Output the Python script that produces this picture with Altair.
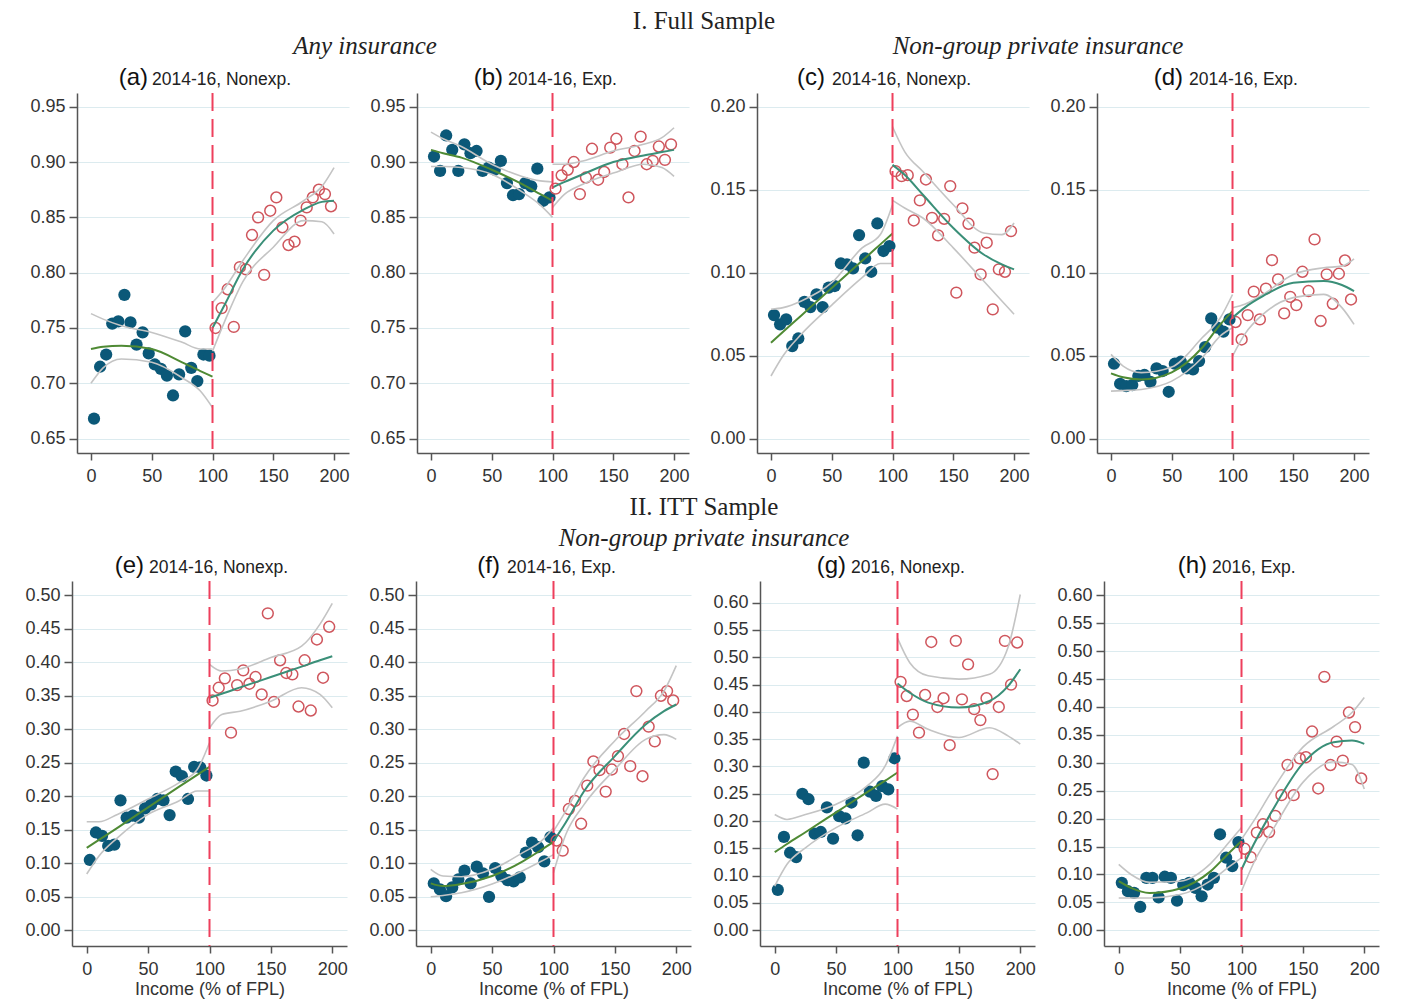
import altair as alt
import pandas as pd

# ---------------- data ----------------
X_LEFT = [2.5, 7.5, 12.5, 17.5, 22.5, 27.5, 32.5, 37.5, 42.5, 47.5,
          52.5, 57.5, 62.5, 67.5, 72.5, 77.5, 82.5, 87.5, 92.5, 97.5]
X_RIGHT = [102.5, 107.5, 112.5, 117.5, 122.5, 127.5, 132.5, 137.5, 142.5, 147.5,
           152.5, 157.5, 162.5, 167.5, 172.5, 177.5, 182.5, 187.5, 192.5, 197.5]
GRID_LEFT = [0, 10, 25, 50, 75, 90, 100]
GRID_RIGHT = [100, 110, 125, 150, 175, 190, 200]
X_TICKS = [0, 50, 100, 150, 200]
CUTOFF = [100]

TICKS_A = [0.65, 0.70, 0.75, 0.80, 0.85, 0.90, 0.95]
TICKS_C = [0.00, 0.05, 0.10, 0.15, 0.20]
TICKS_E = [0.00, 0.05, 0.10, 0.15, 0.20, 0.25, 0.30, 0.35, 0.40, 0.45, 0.50]
TICKS_G = [0.00, 0.05, 0.10, 0.15, 0.20, 0.25, 0.30, 0.35, 0.40, 0.45, 0.50, 0.55, 0.60]

# (a) Any insurance, 2014-16, Nonexp.
a_left = [0.668, 0.715, 0.726, 0.754, 0.756, 0.780, 0.755, 0.735, 0.746, 0.727,
          0.717, 0.713, 0.707, 0.689, 0.708, 0.747, 0.714, 0.702, 0.726, 0.725]
a_right = [0.750, 0.768, 0.785, 0.751, 0.805, 0.803, 0.834, 0.850, 0.798, 0.856,
           0.868, 0.841, 0.825, 0.828, 0.847, 0.859, 0.868, 0.875, 0.871, 0.860]
a_fit_l = [0.731, 0.733, 0.734, 0.731, 0.719, 0.711, 0.706]
a_hi_l = [0.763, 0.758, 0.752, 0.746, 0.737, 0.731, 0.731]
a_lo_l = [0.700, 0.714, 0.722, 0.719, 0.705, 0.693, 0.678]
a_fit_r = [0.750, 0.771, 0.803, 0.838, 0.857, 0.864, 0.865]
a_hi_r = [0.773, 0.786, 0.811, 0.847, 0.865, 0.878, 0.895]
a_lo_r = [0.729, 0.756, 0.792, 0.823, 0.847, 0.846, 0.835]

# (b) Any insurance, 2014-16, Exp.
b_left = [0.905, 0.892, 0.924, 0.911, 0.892, 0.916, 0.908, 0.910, 0.892, 0.895,
          0.893, 0.901, 0.881, 0.870, 0.871, 0.881, 0.878, 0.894, 0.865, 0.868]
b_right = [0.876, 0.888, 0.893, 0.900, 0.871, 0.886, 0.912, 0.884, 0.891, 0.913,
           0.921, 0.898, 0.868, 0.910, 0.923, 0.898, 0.901, 0.914, 0.902, 0.916]
b_fit_l = [0.911, 0.908, 0.904, 0.893, 0.880, 0.871, 0.865]
b_hi_l = [0.927, 0.921, 0.914, 0.898, 0.887, 0.883, 0.882]
b_lo_l = [0.896, 0.896, 0.895, 0.889, 0.873, 0.861, 0.850]
b_fit_r = [0.877, 0.882, 0.889, 0.900, 0.906, 0.909, 0.911]
b_hi_r = [0.898, 0.898, 0.901, 0.910, 0.916, 0.922, 0.931]
b_lo_r = [0.859, 0.871, 0.880, 0.890, 0.898, 0.895, 0.887]

# (c) Non-group private, 2014-16, Nonexp.
c_left = [0.0745, 0.0689, 0.0719, 0.0558, 0.0604, 0.0825, 0.0793, 0.0870, 0.0793, 0.0910,
          0.0920, 0.1056, 0.1050, 0.1026, 0.1227, 0.1086, 0.1006, 0.1297, 0.1131, 0.1161]
c_right = [0.1612, 0.1582, 0.1588, 0.1315, 0.1436, 0.1562, 0.1331, 0.1225, 0.1325, 0.1522,
           0.0880, 0.1388, 0.1295, 0.1151, 0.0990, 0.1181, 0.0779, 0.1020, 0.1006, 0.1251]
c_fit_l = [0.0578, 0.0644, 0.0743, 0.0908, 0.1072, 0.1171, 0.1237]
c_hi_l = [0.0780, 0.0790, 0.0830, 0.0940, 0.1150, 0.1230, 0.1410]
c_lo_l = [0.0378, 0.0500, 0.0630, 0.0805, 0.0970, 0.1056, 0.1056]
c_fit_r = [0.1650, 0.1590, 0.1470, 0.1270, 0.1110, 0.1050, 0.1020]
c_hi_r = [0.1880, 0.1730, 0.1610, 0.1410, 0.1240, 0.1230, 0.1300]
c_lo_r = [0.1436, 0.1390, 0.1330, 0.1150, 0.0950, 0.0830, 0.0750]

# (d) Non-group private, 2014-16, Exp.
d_left = [0.0452, 0.0331, 0.0317, 0.0323, 0.0378, 0.0384, 0.0343, 0.0424, 0.0408, 0.0283,
          0.0452, 0.0464, 0.0424, 0.0418, 0.0468, 0.0552, 0.0725, 0.0669, 0.0645, 0.0719]
d_right = [0.0703, 0.0598, 0.0745, 0.0886, 0.0719, 0.0904, 0.1076, 0.0960, 0.0755, 0.0855,
           0.0805, 0.1006, 0.0890, 0.1201, 0.0709, 0.0990, 0.0813, 0.0994, 0.1074, 0.0839]
d_fit_l = [0.0394, 0.0370, 0.0357, 0.0400, 0.0548, 0.0689, 0.0769]
d_hi_l = [0.0508, 0.0438, 0.0398, 0.0432, 0.0608, 0.0729, 0.0869]
d_lo_l = [0.0287, 0.0290, 0.0297, 0.0347, 0.0488, 0.0620, 0.0669]
d_fit_r = [0.0729, 0.0790, 0.0859, 0.0940, 0.0950, 0.0926, 0.0889]
d_hi_r = [0.0789, 0.0810, 0.0869, 0.0990, 0.1030, 0.1040, 0.1084]
d_lo_r = [0.0498, 0.0629, 0.0749, 0.0850, 0.0870, 0.0790, 0.0689]

# (e) ITT, 2014-16, Nonexp.
e_left = [0.105, 0.146, 0.141, 0.126, 0.128, 0.194, 0.168, 0.171, 0.168, 0.182,
          0.188, 0.196, 0.194, 0.172, 0.237, 0.230, 0.196, 0.244, 0.243, 0.231]
e_right = [0.343, 0.362, 0.376, 0.295, 0.366, 0.388, 0.368, 0.378, 0.352, 0.473,
           0.341, 0.403, 0.384, 0.382, 0.334, 0.403, 0.328, 0.434, 0.377, 0.453]
e_fit_l = [0.123, 0.135, 0.153, 0.1835, 0.214, 0.232, 0.244]
e_hi_l = [0.162, 0.162, 0.173, 0.196, 0.220, 0.240, 0.280]
e_lo_l = [0.084, 0.111, 0.138, 0.173, 0.193, 0.208, 0.208]
e_fit_r = [0.347, 0.353, 0.3625, 0.378, 0.3935, 0.403, 0.409]
e_hi_r = [0.397, 0.387, 0.390, 0.407, 0.424, 0.457, 0.488]
e_lo_r = [0.302, 0.322, 0.327, 0.342, 0.362, 0.352, 0.332]

# (f) ITT, 2014-16, Exp.
f_left = [0.070, 0.061, 0.051, 0.064, 0.076, 0.089, 0.070, 0.095, 0.085, 0.050,
          0.093, 0.081, 0.075, 0.073, 0.079, 0.116, 0.131, 0.124, 0.103, 0.139]
f_right = [0.134, 0.119, 0.181, 0.193, 0.159, 0.216, 0.252, 0.239, 0.207, 0.240,
           0.260, 0.293, 0.245, 0.357, 0.230, 0.304, 0.282, 0.350, 0.357, 0.343]
f_fit_l = [0.070, 0.066, 0.069, 0.081, 0.103, 0.120, 0.132]
f_hi_l = [0.091, 0.081, 0.080, 0.091, 0.116, 0.133, 0.153]
f_lo_l = [0.050, 0.052, 0.056, 0.069, 0.089, 0.103, 0.113]
f_fit_r = [0.133, 0.161, 0.208, 0.260, 0.307, 0.327, 0.337]
f_hi_r = [0.148, 0.178, 0.228, 0.283, 0.327, 0.357, 0.395]
f_lo_r = [0.086, 0.143, 0.188, 0.240, 0.285, 0.292, 0.285]

# (g) ITT, 2016, Nonexp.
g_left = [0.074, 0.171, 0.142, 0.134, 0.250, 0.240, 0.177, 0.180, 0.225, 0.168,
          0.209, 0.205, 0.234, 0.174, 0.307, 0.254, 0.246, 0.264, 0.258, 0.315]
g_right = [0.455, 0.429, 0.395, 0.362, 0.431, 0.528, 0.409, 0.425, 0.339, 0.530,
           0.423, 0.487, 0.405, 0.385, 0.425, 0.286, 0.409, 0.530, 0.450, 0.527]
g_fit_l = [0.143, 0.158, 0.1795, 0.216, 0.2525, 0.274, 0.289]
g_hi_l = [0.212, 0.203, 0.212, 0.231, 0.264, 0.301, 0.356]
g_lo_l = [0.081, 0.121, 0.151, 0.188, 0.215, 0.231, 0.222]
g_fit_r = [0.452, 0.435, 0.417, 0.408, 0.420, 0.447, 0.478]
g_hi_r = [0.535, 0.490, 0.466, 0.460, 0.469, 0.518, 0.615]
g_lo_r = [0.371, 0.383, 0.368, 0.353, 0.371, 0.356, 0.341]

# (h) ITT, 2016, Exp.
h_left = [0.085, 0.070, 0.067, 0.042, 0.094, 0.094, 0.059, 0.096, 0.094, 0.053,
          0.081, 0.085, 0.076, 0.061, 0.082, 0.094, 0.172, 0.130, 0.115, 0.158]
h_right = [0.146, 0.131, 0.175, 0.190, 0.176, 0.205, 0.242, 0.296, 0.242, 0.308,
           0.310, 0.356, 0.254, 0.454, 0.296, 0.338, 0.304, 0.390, 0.364, 0.272]
h_fit_l = [0.088, 0.076, 0.067, 0.075, 0.106, 0.139, 0.160]
h_hi_l = [0.118, 0.100, 0.086, 0.088, 0.120, 0.158, 0.184]
h_lo_l = [0.058, 0.058, 0.058, 0.064, 0.089, 0.114, 0.130]
h_fit_r = [0.109, 0.154, 0.214, 0.299, 0.337, 0.340, 0.334]
h_hi_r = [0.163, 0.196, 0.250, 0.328, 0.365, 0.390, 0.417]
h_lo_r = [0.070, 0.121, 0.178, 0.265, 0.302, 0.297, 0.253]

TOP_HEADER = "I. Full Sample"
BOTTOM_HEADER = "II. ITT Sample"
GROUP_ANY = "Any insurance"
GROUP_NG = "Non-group private insurance"
X_TITLE = "Income (% of FPL)"

PANELS = [
    ("(a)", "2014-16, Nonexp.", a_left, a_right, a_fit_l, a_hi_l, a_lo_l, a_fit_r, a_hi_r, a_lo_r, TICKS_A),
    ("(b)", "2014-16, Exp.", b_left, b_right, b_fit_l, b_hi_l, b_lo_l, b_fit_r, b_hi_r, b_lo_r, TICKS_A),
    ("(c)", "2014-16, Nonexp.", c_left, c_right, c_fit_l, c_hi_l, c_lo_l, c_fit_r, c_hi_r, c_lo_r, TICKS_C),
    ("(d)", "2014-16, Exp.", d_left, d_right, d_fit_l, d_hi_l, d_lo_l, d_fit_r, d_hi_r, d_lo_r, TICKS_C),
    ("(e)", "2014-16, Nonexp.", e_left, e_right, e_fit_l, e_hi_l, e_lo_l, e_fit_r, e_hi_r, e_lo_r, TICKS_E),
    ("(f)", "2014-16, Exp.", f_left, f_right, f_fit_l, f_hi_l, f_lo_l, f_fit_r, f_hi_r, f_lo_r, TICKS_E),
    ("(g)", "2016, Nonexp.", g_left, g_right, g_fit_l, g_hi_l, g_lo_l, g_fit_r, g_hi_r, g_lo_r, TICKS_G),
    ("(h)", "2016, Exp.", h_left, h_right, h_fit_l, h_hi_l, h_lo_l, h_fit_r, h_hi_r, h_lo_r, TICKS_G),
]

# ---------------- layout / style ----------------
TOP_W, TOP_H = 272, 360
BOT_W, BOT_H = 275, 365
X_DOM_TOP = [-11.5, 212.3]
X_DOM_BOT = [-12.0, 212.0]
Y_DOMS = [[0.637, 0.9624], [0.637, 0.9624], [-0.0086, 0.2083], [-0.0086, 0.2083],
          [-0.0234, 0.5213], [-0.0234, 0.5213], [-0.0288, 0.6397], [-0.0281, 0.6256]]
TITLE_POS = [(71, 75), (86, 91), (68, 75), (86, 92), (72, 77), (84, 91), (86, 91), (103, 108)]

BLUE = "#0b5878"
RED = "#cf565d"
GREEN_L = "#4f8a34"
GREEN_R = "#3a8f78"
CI_GRAY = "#c4c4c4"
CUT_RED = "#ee3f5c"
SANS = "Liberation Sans"
SERIF = "Liberation Serif"


def text_layer(txt, x, y, size, font, align="center", style="normal", color="#222"):
    return alt.Chart(pd.DataFrame({"t": [txt]})).mark_text(
        fontSize=size, font=font, align=align, baseline="alphabetic",
        fontStyle=style, color=color
    ).encode(text="t:N", x=alt.value(x), y=alt.value(y))


def make_panel(i, extra):
    tag, label, left, right, fit_l, hi_l, lo_l, fit_r, hi_r, lo_r, ticks = PANELS[i]
    top = i < 4
    w, h = (TOP_W, TOP_H) if top else (BOT_W, BOT_H)
    xdom = X_DOM_TOP if top else X_DOM_BOT
    ydom = Y_DOMS[i]

    x_axis = alt.Axis(values=X_TICKS, grid=False, title=None if top else X_TITLE,
                      tickSize=7, labelPadding=7, titlePadding=2)
    y_axis = alt.Axis(values=ticks, format=".2f", grid=True, title=None,
                      tickSize=8, labelPadding=4)
    xe = alt.X("x:Q", scale=alt.Scale(domain=xdom, nice=False, zero=False), axis=x_axis)
    ye = alt.Y("y:Q", scale=alt.Scale(domain=ydom, nice=False, zero=False), axis=y_axis)

    pts_l = pd.DataFrame({"x": X_LEFT, "y": left})
    pts_r = pd.DataFrame({"x": X_RIGHT, "y": right})
    rows = []
    for name, xs, ys in (("hi_l", GRID_LEFT, hi_l), ("lo_l", GRID_LEFT, lo_l),
                         ("hi_r", GRID_RIGHT, hi_r), ("lo_r", GRID_RIGHT, lo_r)):
        for xv, yv in zip(xs, ys):
            rows.append({"x": xv, "y": yv, "curve": name})
    ci = pd.DataFrame(rows)
    fl = pd.DataFrame({"x": GRID_LEFT, "y": fit_l})
    fr = pd.DataFrame({"x": GRID_RIGHT, "y": fit_r})

    blue = alt.Chart(pts_l).mark_circle(size=150, color=BLUE, opacity=1).encode(x=xe, y=ye)
    red = alt.Chart(pts_r).mark_point(shape="circle", size=118, filled=False, color=RED,
                                      strokeWidth=1.5, opacity=1).encode(x=xe, y=ye)
    ci_l = alt.Chart(ci).mark_line(color=CI_GRAY, strokeWidth=1.6, interpolate="monotone").encode(
        x=xe, y=ye, detail="curve:N")
    fit_left = alt.Chart(fl).mark_line(color=GREEN_L, strokeWidth=2, interpolate="monotone").encode(x=xe, y=ye)
    fit_right = alt.Chart(fr).mark_line(color=GREEN_R, strokeWidth=2, interpolate="monotone").encode(x=xe, y=ye)
    rule = alt.Chart(pd.DataFrame({"x": CUTOFF})).mark_rule(
        color=CUT_RED, strokeWidth=2, strokeDash=[18, 8]).encode(x=xe)

    px, tx = TITLE_POS[i]
    ty = -8
    t1 = text_layer(tag, px, ty, 24, SANS, align="right", color="#111")
    t2 = text_layer(label, tx, ty, 17.5, SANS, align="left", color="#222")

    layers = [blue, red, ci_l, fit_left, fit_right, rule, t1, t2] + extra
    return alt.layer(*layers).properties(width=w, height=h)


top_extra = [
    text_layer(TOP_HEADER, 627, -64, 25, SERIF),
    text_layer(GROUP_ANY, 288, -39, 25, SERIF, style="italic"),
    text_layer(GROUP_NG, 961, -39, 25, SERIF, style="italic"),
]
bot_extra = [
    text_layer(BOTTOM_HEADER, 632, -66, 25, SERIF),
    text_layer(GROUP_NG, 632, -35, 25, SERIF, style="italic"),
]

panels = []
for i in range(8):
    extra = top_extra if i == 0 else (bot_extra if i == 4 else [])
    panels.append(make_panel(i, extra))

spacer = alt.Chart(pd.DataFrame({"v": [0]})).mark_point(opacity=0).encode(
    x=alt.X("v:Q", axis=None), y=alt.Y("v:Q", axis=None)).properties(width=5, height=TOP_H)

top_row = alt.hconcat(spacer, alt.hconcat(*panels[:4], spacing=68, bounds="flush"),
                      spacing=0, bounds="flush")
bottom_row = alt.hconcat(*panels[4:], spacing=69, bounds="flush")

chart = alt.vconcat(top_row, bottom_row, spacing=10).properties(
    padding={"left": 16, "top": 1, "right": 5, "bottom": 2}
).configure_view(stroke=None).configure_axis(
    domainColor="#555", tickColor="#555", domainWidth=1.5, tickWidth=1.5,
    labelFont=SANS, labelFontSize=18, labelColor="#333",
    gridColor="#dcebef", gridWidth=1.2,
    titleFont=SANS, titleFontSize=18, titleFontWeight="normal", titleColor="#333",
)

chart.save("out.html", embed_options={"renderer": "svg", "actions": False})
